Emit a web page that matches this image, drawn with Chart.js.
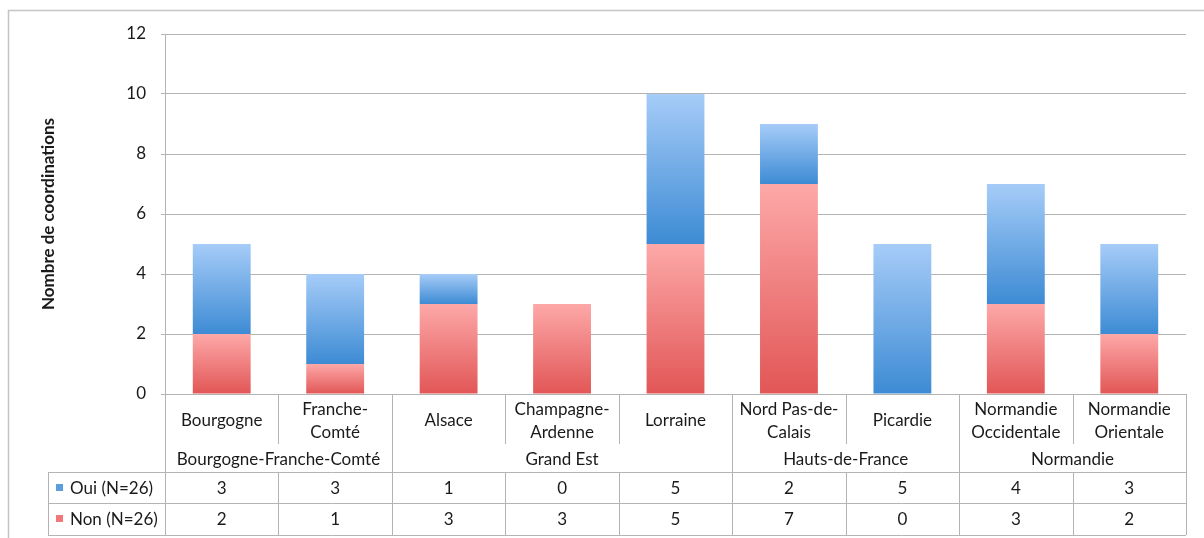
<!DOCTYPE html>
<html>
<head>
<meta charset="utf-8">
<script src="https://cdn.jsdelivr.net/npm/chart.js@4.4.0/dist/chart.umd.min.js"></script>
<style>
  html, body { margin: 0; padding: 0; background: #fff; }
  #wrap { width: 1204px; height: 538px; }
</style>
</head>
<body>
<div id="wrap"><canvas id="myChart" width="1204" height="538"></canvas></div>
<script>
// Regions (two-line labels where the original wraps)
var regions = ["Bourgogne", ["Franche-", "Comté"], "Alsace", ["Champagne-", "Ardenne"], "Lorraine",
  ["Nord Pas-de-", "Calais"], "Picardie", ["Normandie", "Occidentale"], ["Normandie", "Orientale"]];
var groups = ["Bourgogne-Franche-Comté", "Grand Est", "Hauts-de-France", "Normandie"];
var groupSizes = [2, 3, 2, 2];
var ouiValues = [3, 3, 1, 0, 5, 2, 5, 4, 3];
var nonValues = [2, 1, 3, 3, 5, 7, 0, 3, 2];
var yTicks = [0, 2, 4, 6, 8, 10, 12];
var ouiLabel = "Oui (N=26)";
var nonLabel = "Non (N=26)";

var FONT = "Lato";
var lineColor = "#b4b4b4";
var textColor = "#1a1a1a";

// vertical gradient for each stacked segment
function segmentGradient(context, light, dark) {
  var chart = context.chart;
  var y = chart.scales.y;
  if (!y || !chart.chartArea) return dark;
  var i = context.dataIndex;
  var lo = 0, hi = 0;
  if (context.datasetIndex === 0) {
    hi = nonValues[i];
  } else {
    lo = nonValues[i];
    hi = nonValues[i] + ouiValues[i];
  }
  var yBottom = y.getPixelForValue(lo);
  var yTop = y.getPixelForValue(hi);
  if (yBottom === yTop) return dark;
  var g = chart.ctx.createLinearGradient(0, yTop, 0, yBottom);
  g.addColorStop(0, light);
  g.addColorStop(1, dark);
  return g;
}

// frame around the whole picture
var framePlugin = {
  id: "frame",
  beforeDraw: function (chart) {
    var c = chart.ctx;
    c.save();
    c.fillStyle = "#fff";
    c.fillRect(0, 0, chart.width, chart.height);
    c.strokeStyle = "#c4c4c4";
    c.lineWidth = 1.5;
    c.strokeRect(8.5, 10.5, 1400, 700);
    c.restore();
  }
};

// data table under the x axis
var tablePlugin = {
  id: "dataTable",
  afterDraw: function (chart) {
    var c = chart.ctx;
    var area = chart.chartArea;
    var xs = chart.scales.x;
    var n = regions.length;
    var step = area.width / n;
    var top = Math.round(area.bottom);
    var catEnd = top + 50;
    var groupEnd = top + 78;
    var ouiEnd = top + 109;
    var nonEnd = top + 141;
    var legendLeft = 48;
    function px(v) { return Math.round(v) + 0.5; }
    function edge(i) { return xs.getPixelForValue(i) - step / 2; }

    c.save();
    c.strokeStyle = lineColor;
    c.lineWidth = 1;
    c.beginPath();
    // horizontal rules
    [groupEnd, ouiEnd, nonEnd].forEach(function (y) {
      c.moveTo(legendLeft, px(y)); c.lineTo(area.right, px(y));
    });
    // legend column left edge
    c.moveTo(px(legendLeft), groupEnd); c.lineTo(px(legendLeft), nonEnd);
    // category separators
    for (var i = 0; i <= n; i++) {
      var x = i === n ? area.right : edge(i);
      c.moveTo(px(x), top); c.lineTo(px(x), catEnd);
      c.moveTo(px(x), groupEnd); c.lineTo(px(x), nonEnd);
    }
    // group separators
    var k = 0;
    for (var g = 0; g <= groups.length; g++) {
      var gx = k >= n ? area.right : edge(k);
      c.moveTo(px(gx), catEnd); c.lineTo(px(gx), groupEnd);
      if (g < groups.length) k += groupSizes[g];
    }
    c.stroke();

    c.fillStyle = textColor;
    c.font = "17px " + FONT;
    c.textAlign = "center";
    c.textBaseline = "middle";
    var catMid = top + 27;
    for (var j = 0; j < n; j++) {
      var cx = xs.getPixelForValue(j);
      var lab = regions[j];
      if (Array.isArray(lab)) {
        c.fillText(lab[0], cx, catMid - 11);
        c.fillText(lab[1], cx, catMid + 12);
      } else {
        c.fillText(lab, cx, catMid);
      }
      c.fillText(String(ouiValues[j]), cx, (groupEnd + ouiEnd) / 2 + 1);
      c.fillText(String(nonValues[j]), cx, (ouiEnd + nonEnd) / 2 + 1);
    }
    k = 0;
    for (var h = 0; h < groups.length; h++) {
      var gl = edge(k);
      var gr = k + groupSizes[h] >= n ? area.right : edge(k + groupSizes[h]);
      c.fillText(groups[h], (gl + gr) / 2, (catEnd + groupEnd) / 2 + 2);
      k += groupSizes[h];
    }

    // legend keys
    c.textAlign = "left";
    var ouiY = (groupEnd + ouiEnd) / 2;
    var nonY = (ouiEnd + nonEnd) / 2;
    c.fillStyle = "#5b9ee0";
    c.fillRect(56, Math.round(ouiY) - 4, 7, 7);
    c.fillStyle = "#f07878";
    c.fillRect(56, Math.round(nonY) - 4, 7, 7);
    c.fillStyle = textColor;
    c.fillText(ouiLabel, 70, ouiY + 1);
    c.fillText(nonLabel, 70, nonY + 1);
    c.restore();
  }
};

var ctx = document.getElementById("myChart").getContext("2d");
var myChart = new Chart(ctx, {
  type: "bar",
  data: {
    labels: regions,
    datasets: [
      {
        label: nonLabel,
        data: nonValues,
        backgroundColor: function (context) { return segmentGradient(context, "#fda8a8", "#e25656"); },
        borderWidth: 0
      },
      {
        label: ouiLabel,
        data: ouiValues,
        backgroundColor: function (context) { return segmentGradient(context, "#a6ccf8", "#3d8bd4"); },
        borderWidth: 0
      }
    ]
  },
  options: {
    responsive: false,
    animation: false,
    layout: { padding: { left: 34, right: 18, top: 34, bottom: 144 } },
    datasets: { bar: { categoryPercentage: 1, barPercentage: 0.51 } },
    plugins: { legend: { display: false }, tooltip: { enabled: false } },
    scales: {
      x: {
        display: false,
        stacked: true
      },
      y: {
        stacked: true,
        min: 0,
        max: 12,
        afterBuildTicks: function (scale) {
          scale.ticks = yTicks.map(function (v) { return { value: v }; });
        },
        afterFit: function (scale) { scale.width = 131; },
        ticks: { color: textColor, font: { family: FONT, size: 17 }, padding: 15 },
        grid: { color: lineColor, lineWidth: 1, tickLength: 4 },
        border: { color: lineColor },
        title: {
          display: true,
          text: "Nombre de coordinations",
          color: textColor,
          font: { family: FONT, size: 17, weight: "bold" },
          padding: { top: 4, bottom: 0 }
        }
      }
    }
  },
  plugins: [framePlugin, tablePlugin]
});
</script>
</body>
</html>
